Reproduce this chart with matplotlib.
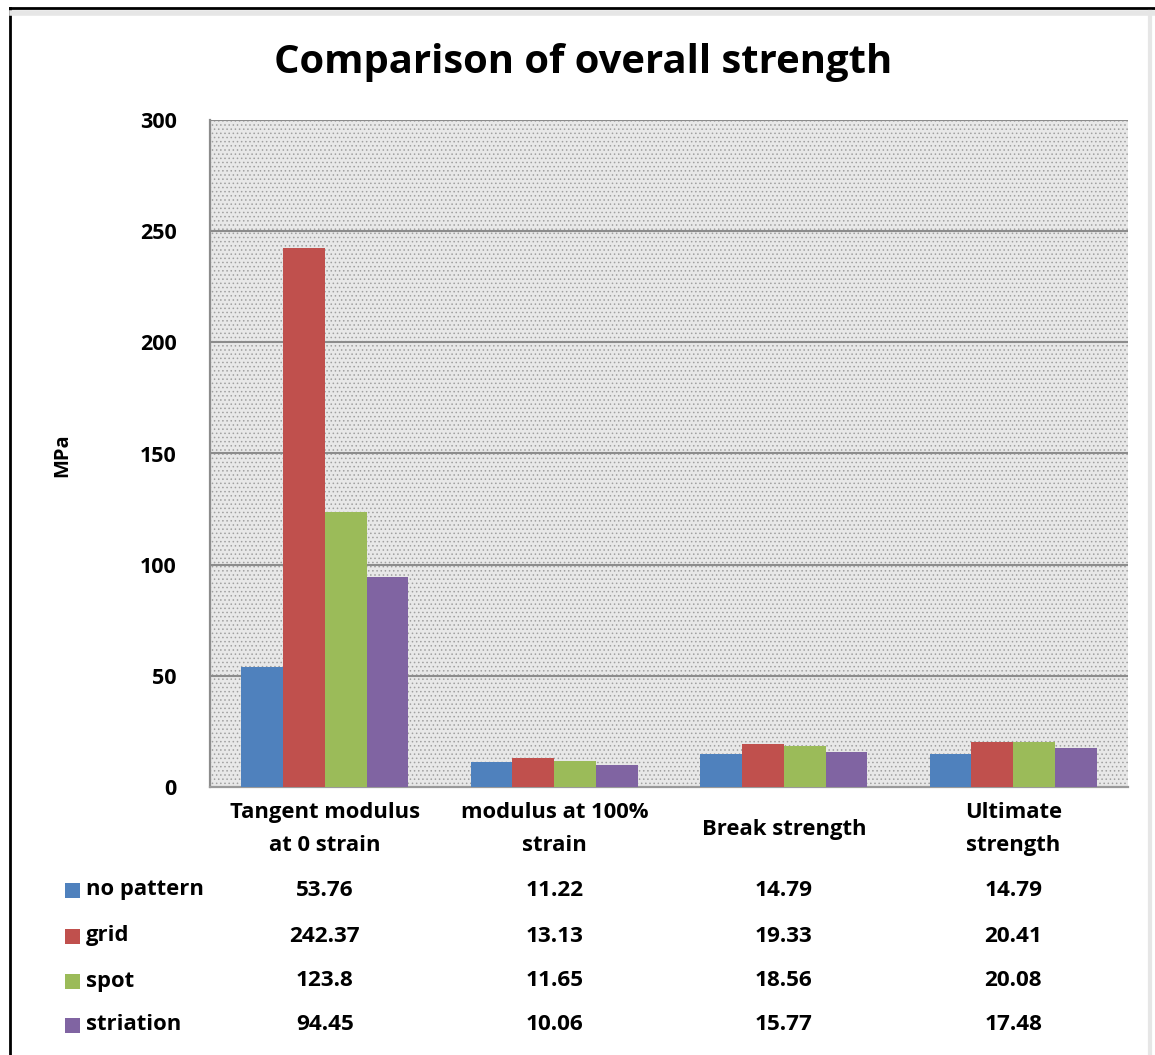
import matplotlib
matplotlib.use("Agg")
import matplotlib.pyplot as plt
import matplotlib.transforms as mtransforms
from matplotlib.patches import Rectangle
from matplotlib.lines import Line2D
import numpy as np

plt.rcParams['font.family'] = ['Open Sans', 'DejaVu Sans']
plt.rcParams['hatch.linewidth'] = 0.6

categories = ["Tangent modulus\nat 0 strain", "modulus at 100%\nstrain", "Break strength", "Ultimate\nstrength"]
series_names = ["no pattern", "grid", "spot", "striation"]
no_pattern = [53.76, 11.22, 14.79, 14.79]
grid = [242.37, 13.13, 19.33, 20.41]
spot = [123.8, 11.65, 18.56, 20.08]
striation = [94.45, 10.06, 15.77, 17.48]
value_labels = [
    ["53.76", "11.22", "14.79", "14.79"],
    ["242.37", "13.13", "19.33", "20.41"],
    ["123.8", "11.65", "18.56", "20.08"],
    ["94.45", "10.06", "15.77", "17.48"],
]
colors = ["#4f81bd", "#c0504d", "#9bbb59", "#8064a2"]
yticks = [0, 50, 100, 150, 200, 250, 300]

W, H = 1155, 1055
fig = plt.figure(figsize=(W / 100, H / 100), dpi=100)
fig.patch.set_facecolor("white")

ax = fig.add_axes([210 / W, 1 - 787 / H, 918 / W, 667 / H])
ax.set_xlim(0, 4)
ax.set_ylim(0, 300)

# dotted background of the plot area
bg = Rectangle((0, 0), 1, 1, transform=ax.transAxes, facecolor="#e8e8e8",
               edgecolor="#a0a0a0", hatch="....", linewidth=0, zorder=0)
ax.add_patch(bg)
ax.set_facecolor("white")

for y in yticks[1:]:
    ax.axhline(y, color="#8c8c8c", linewidth=1.5, zorder=1)

series = [no_pattern, grid, spot, striation]
bw = 0.182
x = np.arange(len(categories)) + 0.5
for i, vals in enumerate(series):
    ax.bar(x + (i - 1.5) * bw, vals, width=bw, color=colors[i], zorder=3, linewidth=0)

for s in ["top", "right"]:
    ax.spines[s].set_visible(False)
ax.spines["left"].set_color("#8c8c8c")
ax.spines["bottom"].set_color("#9a9a9a")
ax.spines["left"].set_linewidth(1.6)
ax.spines["bottom"].set_linewidth(1.6)

ax.set_yticks(yticks)
ax.set_yticklabels([str(v) for v in yticks], fontsize=15.5, fontweight="bold")
ax.tick_params(axis="y", length=0, pad=24)
ax.set_xticks([])

trans = mtransforms.blended_transform_factory(ax.transData, fig.transFigure)
for j, c in enumerate(categories):
    ycat = 1 - 829 / H
    ax.text(x[j], ycat, c, transform=trans, ha="center", va="center",
            fontsize=15.8, fontweight="bold", linespacing=1.8)

row_y = [890, 936, 981, 1025]
for i, name in enumerate(series_names):
    yy = 1 - row_y[i] / H
    fig.add_artist(Rectangle((65 / W, yy - 7.5 / H), 15 / W, 15 / H,
                             transform=fig.transFigure, facecolor=colors[i],
                             edgecolor="none"))
    fig.text(86 / W, yy, name, ha="left", va="center", fontsize=15.8, fontweight="bold")
    for j in range(len(categories)):
        ax.text(x[j], yy, value_labels[i][j], transform=trans, ha="center",
                va="center", fontsize=16.2, fontweight="bold")

fig.text(62 / W, 1 - 455 / H, "MPa", rotation=90, ha="center", va="center",
         fontsize=14.5, fontweight="bold")
fig.text(583 / W, 1 - 62 / H, "Comparison of overall strength", ha="center",
         va="center", fontsize=28.8, fontweight="bold")

# outer frame
fig.add_artist(Line2D([10 / W, 10 / W], [0, 1 - 8 / H], transform=fig.transFigure,
                      color="black", linewidth=2))
fig.add_artist(Line2D([10 / W, 1], [1 - 8 / H, 1 - 8 / H], transform=fig.transFigure,
                      color="black", linewidth=2))
fig.add_artist(Line2D([1150 / W, 1150 / W], [0, 1 - 12 / H], transform=fig.transFigure,
                      color="#e6e6e6", linewidth=3))
fig.add_artist(Line2D([12 / W, 1], [1 - 13 / H, 1 - 13 / H], transform=fig.transFigure,
                      color="#e6e6e6", linewidth=4))

fig.savefig("out.png", dpi=100)
